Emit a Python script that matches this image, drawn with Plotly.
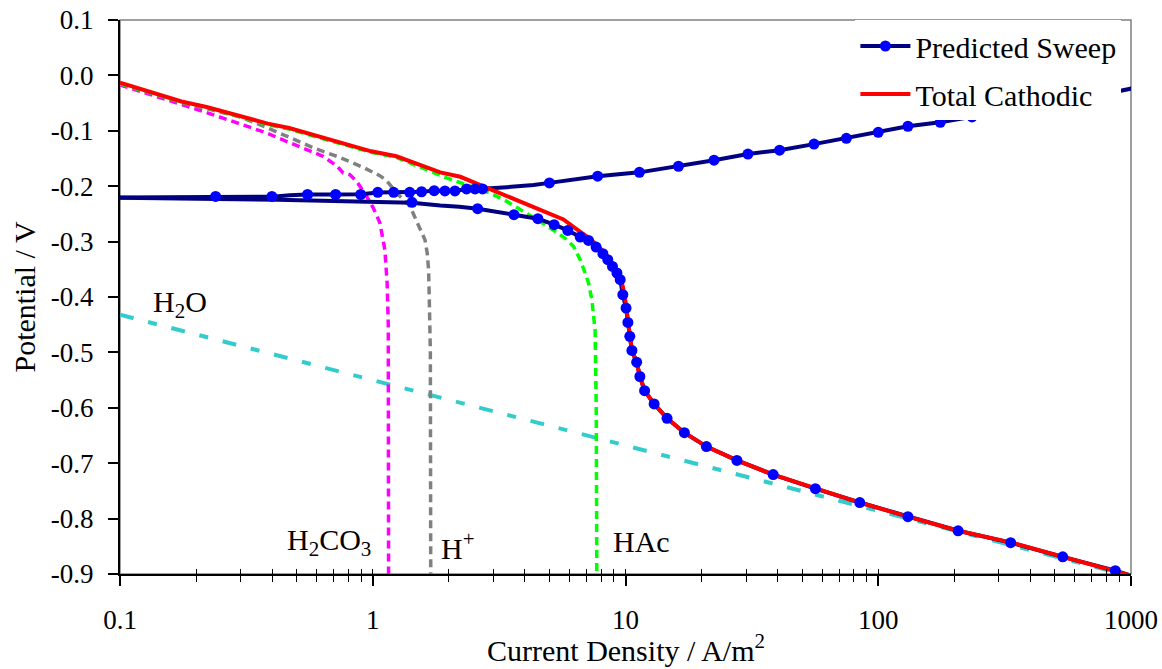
import math
import plotly.graph_objects as go

# ---------------- data ----------------
# Total cathodic (red)
total_x = [0.1, 0.175, 0.22, 0.384, 0.467, 0.986, 1.24, 1.85, 2.22, 2.82, 3.39, 4.07, 5.03, 5.68,
           6.42, 7.24, 7.94, 8.70, 9.38, 9.76, 9.98, 10.1, 10.25, 10.4, 10.6, 11.07, 11.4, 11.9,
           12.98, 14.6, 17.1, 20.9, 27.6, 38.4, 56.4, 84.5, 131, 207, 334, 537, 867, 1000, 1100]
total_y = [-0.013, -0.047, -0.057, -0.087, -0.095, -0.137, -0.146, -0.175, -0.183, -0.203, -0.217,
           -0.233, -0.251, -0.260, -0.278, -0.295, -0.312, -0.333, -0.357, -0.381, -0.405, -0.420,
           -0.446, -0.471, -0.4965, -0.518, -0.5435, -0.569, -0.593, -0.619, -0.645, -0.670, -0.695,
           -0.7206, -0.746, -0.771, -0.7965, -0.822, -0.843, -0.869, -0.894, -0.903, -0.908]

# Predicted sweep, cathodic branch (navy line)
sweep_cat_x = [1000, 867, 537, 334, 207, 131, 84.5, 56.4, 38.4, 27.6, 20.9, 17.1, 14.6, 12.98, 11.9,
               11.4, 11.07, 10.6, 10.4, 10.22, 10.05, 9.76, 9.53, 9.25, 8.88, 8.51, 8.14, 7.65, 7.14,
               6.62, 5.91, 5.22, 4.50, 3.62, 2.60, 2.2, 1.85, 1.43, 1.0, 0.42, 0.1]
sweep_cat_y = [-0.903, -0.894, -0.869, -0.8434, -0.822, -0.7965, -0.771, -0.746, -0.7206, -0.695,
               -0.670, -0.645, -0.619, -0.593, -0.569, -0.5435, -0.5176, -0.4965, -0.471, -0.446,
               -0.420, -0.3959, -0.3688, -0.3567, -0.3448, -0.3327, -0.3219, -0.3098, -0.2978,
               -0.2917, -0.2798, -0.2695, -0.2586, -0.2514, -0.2406, -0.237, -0.235, -0.230, -0.228,
               -0.2243, -0.221]
# Predicted sweep, anodic branch (navy line)
sweep_an_x = [0.1, 0.24, 0.40, 0.47, 0.55, 0.71, 0.90, 1.05, 1.21, 1.40, 1.56, 1.75, 1.93, 2.115,
              2.35, 2.54, 2.72, 3.39, 4.33, 5.0, 7.76, 11.35, 16.2, 22.4, 30.5, 40.7, 55.7, 74.8,
              100, 131, 176, 235, 316, 940, 1100]
sweep_an_y = [-0.2205, -0.2195, -0.219, -0.2165, -0.215, -0.215, -0.2145, -0.2115, -0.211, -0.211,
              -0.210, -0.208, -0.2085, -0.2085, -0.205, -0.205, -0.2045, -0.2017, -0.198, -0.194,
              -0.182, -0.175, -0.164, -0.153, -0.142, -0.135, -0.124, -0.1135, -0.1027, -0.0918,
              -0.0846, -0.0749, -0.0707, -0.0256, -0.020]
# Predicted sweep markers
mark_x = [867, 537, 334, 207, 131, 84.5, 56.4, 38.4, 27.6, 20.9, 17.1, 14.6, 12.98, 11.9, 11.4,
          11.07, 10.6, 10.4, 10.22, 10.05, 9.76, 9.53, 9.25, 8.88, 8.51, 8.14, 7.65, 7.14, 6.62,
          5.91, 5.22, 4.50, 3.62, 2.60, 1.43,
          0.239, 0.399, 0.552, 0.713, 0.896, 1.047, 1.21, 1.40, 1.56, 1.75, 1.93, 2.115, 2.35,
          2.54, 2.72, 5.0, 7.76, 11.35, 16.2, 22.4, 30.5, 40.7, 55.7, 74.8, 100, 131, 176, 235, 316]
mark_y = [-0.894, -0.869, -0.8434, -0.822, -0.7965, -0.771, -0.746, -0.7206, -0.695, -0.670,
          -0.645, -0.619, -0.593, -0.569, -0.5435, -0.5176, -0.4965, -0.471, -0.446, -0.420,
          -0.3959, -0.3688, -0.3567, -0.3448, -0.3327, -0.3219, -0.3098, -0.2978, -0.2917,
          -0.2798, -0.2695, -0.2586, -0.2514, -0.2406, -0.229,
          -0.2185, -0.2185, -0.215, -0.215, -0.215, -0.211, -0.211, -0.211, -0.210, -0.208,
          -0.2085, -0.2085, -0.205, -0.205, -0.205, -0.194, -0.182, -0.175, -0.164, -0.153,
          -0.142, -0.135, -0.124, -0.1135, -0.1027, -0.0918, -0.0846, -0.0749, -0.0707]

# Component cathodic reactions (dashed)
h2co3_x = [0.1, 0.135, 0.167, 0.213, 0.255, 0.306, 0.380, 0.455, 0.563, 0.636, 0.719, 0.764, 0.811,
           0.863, 0.945, 1.004, 1.067, 1.117, 1.140, 1.152, 1.155]
h2co3_y = [-0.017, -0.037, -0.0496, -0.0648, -0.0767, -0.0888, -0.1038, -0.119, -0.137, -0.146,
           -0.163, -0.176, -0.179, -0.191, -0.218, -0.239, -0.266, -0.315, -0.375, -0.45, -0.9]
hplus_x = [0.1, 0.175, 0.22, 0.30, 0.371, 0.442, 0.514, 0.599, 0.741, 0.916, 1.067, 1.134, 1.243,
           1.403, 1.513, 1.609, 1.642, 1.663, 1.673, 1.69, 1.696]
hplus_y = [-0.015, -0.049, -0.060, -0.075, -0.092, -0.107, -0.119, -0.133, -0.148, -0.166, -0.181,
           -0.190, -0.212, -0.236, -0.2695, -0.2966, -0.3206, -0.351, -0.399, -0.5, -0.9]
hac_x = [0.1, 0.175, 0.22, 0.384, 0.467, 0.986, 1.24, 1.96, 2.91, 3.39, 3.94, 4.59, 5.51, 5.86,
         6.23, 6.62, 6.92, 7.14, 7.36, 7.47, 7.58, 7.66, 7.70]
hac_y = [-0.015, -0.048, -0.058, -0.089, -0.097, -0.139, -0.148, -0.1851, -0.2122, -0.2274,
         -0.2454, -0.2635, -0.2875, -0.2966, -0.3087, -0.3327, -0.3567, -0.3748, -0.405, -0.441,
         -0.46, -0.6, -0.9]
h2o_x = [0.1, 1, 10, 100, 1000]
h2o_y = [-0.432, -0.550, -0.668, -0.786, -0.904]

# axis ticks
x_tickvals = [0.1, 1, 10, 100, 1000]
x_ticktext = ["0.1", "1", "10", "100", "1000"]
x_minor = [m * d for d in (0.1, 1, 10, 100) for m in range(2, 10)]
y_tickvals = [0.1, 0.0, -0.1, -0.2, -0.3, -0.4, -0.5, -0.6, -0.7, -0.8, -0.9]
y_ticktext = ["0.1", "0.0", "-0.1", "-0.2", "-0.3", "-0.4", "-0.5", "-0.6", "-0.7", "-0.8", "-0.9"]

# labels
labels = [
    ("H<sub>2</sub>O", 0.133, -0.412, "left"),
    ("H<sub>2</sub>CO<sub>3</sub>", 1.0, -0.842, "right"),
    ("H<sup>+</sup>", 1.83, -0.850, "left"),
    ("HAc", 8.75, -0.842, "left"),
]
x_title = "Current Density / A/m<sup>2</sup>"
y_title = "Potential / V"

# ---------------- figure ----------------
FONT = "Liberation Serif, Times New Roman, serif"
fig = go.Figure()

dash_short = "8px,5px"
fig.add_trace(go.Scatter(x=h2o_x, y=h2o_y, mode="lines", showlegend=False,
                         line=dict(color="#33CCCC", width=4, dash="14px,15px,9px,15px")))
fig.add_trace(go.Scatter(x=h2co3_x, y=h2co3_y, mode="lines", showlegend=False,
                         line=dict(color="#FF00FF", width=3.5, dash=dash_short)))
fig.add_trace(go.Scatter(x=hplus_x, y=hplus_y, mode="lines", showlegend=False,
                         line=dict(color="#808080", width=3.5, dash=dash_short)))
fig.add_trace(go.Scatter(x=hac_x, y=hac_y, mode="lines", showlegend=False,
                         line=dict(color="#00FF00", width=3.5, dash=dash_short)))

NAVY = "#000080"
fig.add_trace(go.Scatter(x=sweep_cat_x, y=sweep_cat_y, mode="lines", showlegend=False,
                         line=dict(color=NAVY, width=4)))
fig.add_trace(go.Scatter(x=sweep_an_x, y=sweep_an_y, mode="lines", showlegend=False,
                         line=dict(color=NAVY, width=4)))
fig.add_trace(go.Scatter(x=total_x, y=total_y, mode="lines", name="Total Cathodic",
                         legendgroup="b", legendrank=2,
                         line=dict(color="#FF0000", width=4)))
fig.add_trace(go.Scatter(x=mark_x, y=mark_y, mode="markers", showlegend=False,
                         marker=dict(color="#0000FF", size=11)))
fig.add_trace(go.Scatter(x=[None], y=[None], mode="lines+markers", name="Predicted Sweep",
                         legendgroup="a", legendrank=1,
                         line=dict(color=NAVY, width=4), marker=dict(color="#0000FF", size=11)))
# helper trace so the inner tick axis is drawn
fig.add_trace(go.Scatter(x=[1], y=[None], xaxis="x2", mode="lines", showlegend=False,
                         hoverinfo="skip"))

for text, lx, ly, anchor in labels:
    fig.add_annotation(x=math.log10(lx), y=ly, xref="x", yref="y", text=text, showarrow=False,
                       xanchor=anchor, yanchor="middle",
                       font=dict(family=FONT, size=30, color="black"))

# x-axis title
fig.add_annotation(x=0.5, y=-0.133, xref="paper", yref="paper", text=x_title, showarrow=False,
                   xanchor="center", yanchor="middle",
                   font=dict(family=FONT, size=30, color="black"))

fig.add_shape(type="rect", xref="paper", yref="paper", x0=0, x1=1, y0=0, y1=1,
              line=dict(color="#808080", width=1.5), layer="below")

axis_font = dict(family=FONT, size=27, color="black")
fig.update_layout(
    width=1162, height=669,
    margin=dict(l=120, r=31, t=20, b=95),
    paper_bgcolor="white", plot_bgcolor="white",
    font=dict(family=FONT, color="black"),
    xaxis=dict(type="log", range=[-1, 3], showgrid=False, zeroline=False, automargin=False,
               showline=True, linecolor="black", linewidth=2,
               ticks="outside", ticklen=10, tickwidth=1.5, tickcolor="black",
               tickmode="array", tickvals=x_tickvals, ticktext=x_ticktext,
               tickfont=axis_font, ticklabelstandoff=11, ticklabeloverflow="allow",
               minor=dict(ticks="outside", ticklen=6, tickwidth=1.2, tickcolor="black",
                          tickmode="array", tickvals=x_minor, showgrid=False)),
    xaxis2=dict(type="log", range=[-1, 3], overlaying="x", side="bottom", anchor="y",
                automargin=False,
                showgrid=False, zeroline=False, showline=False, showticklabels=False,
                ticks="inside", ticklen=5, tickwidth=1.2, tickcolor="black",
                tickmode="array", tickvals=x_tickvals + x_minor),
    yaxis=dict(range=[-0.9, 0.1], showgrid=False, zeroline=False, automargin=False,
               showline=True, linecolor="black", linewidth=2,
               ticks="outside", ticklen=10, tickwidth=1.5, tickcolor="black",
               tickmode="array", tickvals=y_tickvals, ticktext=y_ticktext,
               tickfont=axis_font, ticklabelstandoff=9, ticklabeloverflow="allow",
               title=dict(text=y_title,
                          font=dict(family=FONT, size=30, color="black"), standoff=6)),
    legend=dict(x=0.9905, xanchor="right", y=1.0, yanchor="top",
                bgcolor="white", borderwidth=0,
                font=dict(family=FONT, size=30, color="black"),
                itemwidth=50, traceorder="grouped", tracegroupgap=6),
)

fig.write_html("out.html", config={"displayModeBar": False},
               post_script="document.body.style.margin='0';document.body.style.overflow='hidden';")
